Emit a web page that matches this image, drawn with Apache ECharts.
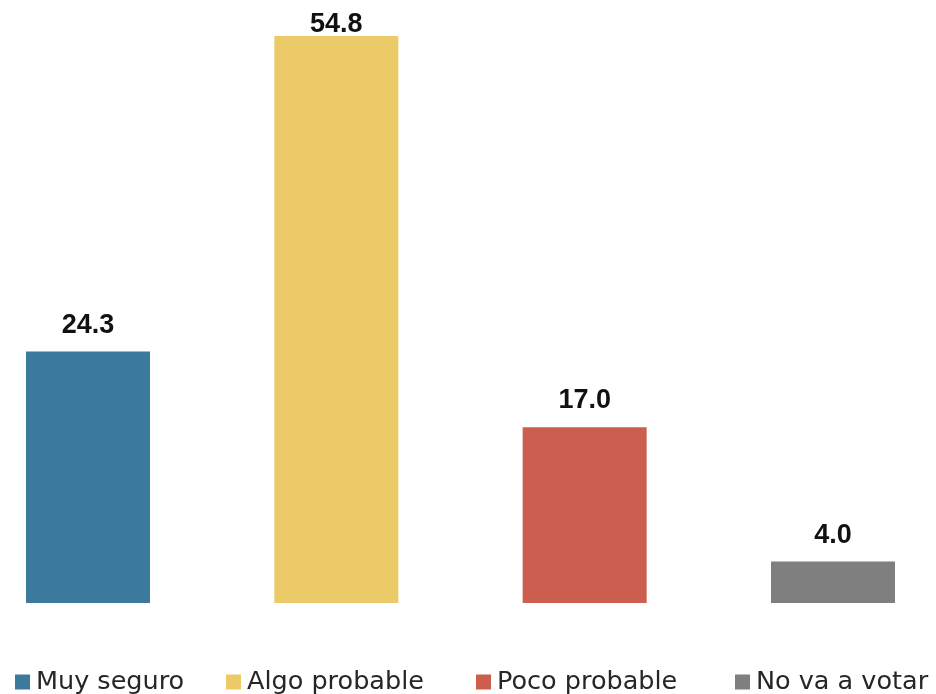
<!DOCTYPE html>
<html><head><meta charset="utf-8">
<script src="https://cdn.jsdelivr.net/npm/echarts@6/dist/echarts.min.js"></script>
<style>html,body{margin:0;padding:0;background:#fff}#c{width:936px;height:694px}</style>
</head><body><div id="c"></div>
<script>
var categories = ['Muy seguro', 'Algo probable', 'Poco probable', 'No va a votar'];
var values = [24.3, 54.8, 17.0, 4.0];
var colors = ['#3B7A9D', '#ECCA68', '#CB5E4E', '#7F7F7F'];
var legendLefts = [15, 226, 476, 735];

var chart = echarts.init(document.getElementById('c'));
var series = categories.map(function (name, i) {
  return {
    name: name, type: 'bar', data: [[i, values[i]]], barWidth: 124, barGap: '-100%',
    itemStyle: { color: colors[i] },
    label: { show: true, position: 'top', distance: i === 1 ? -2 : 13, formatter: function (p) { return p.value[1].toFixed(1); },
      color: '#111', fontFamily: 'Liberation Sans, Arial, sans-serif', fontWeight: 'bold', fontSize: 27 }
  };
});
var legends = categories.map(function (name, i) {
  return {
    data: [name], left: legendLefts[i], top: 669, padding: 0, itemWidth: 15, itemHeight: 15, icon: 'rect',
    textStyle: { fontSize: 25.5, color: '#262626', fontFamily: 'DejaVu Sans, sans-serif', padding: [0, 0, 0, 1] }, itemGap: 6,
    selectedMode: false
  };
});
chart.setOption({
  animation: false,
  legend: legends,
  grid: { left: 0, right: 0, top: 3, bottom: 91, containLabel: false },
  xAxis: { type: 'value', min: -0.3544, max: 3.4148, show: false, splitLine: { show: false } },
  yAxis: { type: 'value', min: 0, max: 58, show: false, splitLine: { show: false } },
  series: series
});
</script></body></html>
